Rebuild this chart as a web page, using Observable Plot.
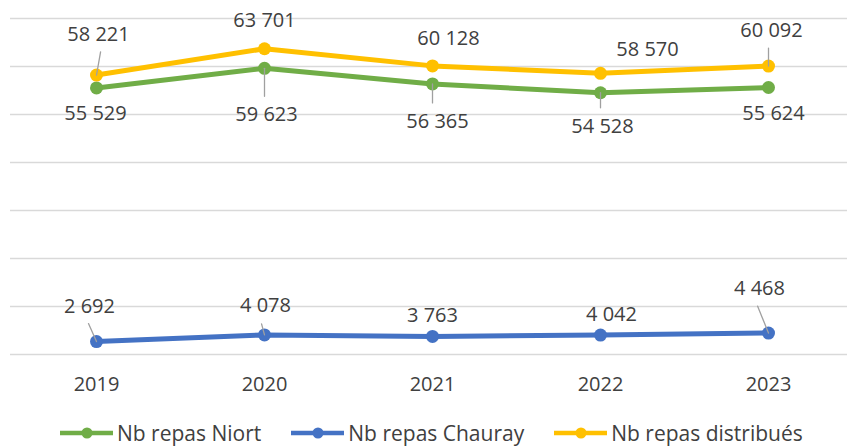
<!DOCTYPE html>
<html>
<head>
<meta charset="utf-8">
<script src="https://cdn.jsdelivr.net/npm/d3@7"></script>
<script src="https://cdn.jsdelivr.net/npm/@observablehq/plot@0.6"></script>
<style>
  html, body { margin: 0; padding: 0; background: #fff; }
  body { width: 847px; height: 447px; overflow: hidden; font-family: "Open Sans", sans-serif; }
  #legend { height: 29px; display: flex; align-items: center; padding-left: 60px; color: #404040; font-size: 21px; }
  .item { display: flex; align-items: center; margin-right: 30px; }
  .item svg { margin-right: 4px; }
</style>
</head>
<body>
<div id="chart"></div>
<div id="legend"></div>
<script>
// ---- data ----
const years = ["2019", "2020", "2021", "2022", "2023"];
const niort = [55529, 59623, 56365, 54528, 55624];
const chauray = [2692, 4078, 3763, 4042, 4468];
const distribues = [58221, 63701, 60128, 58570, 60092];
const seriesNames = ["Nb repas Niort", "Nb repas Chauray", "Nb repas distribués"];
const yTicks = [0, 10000, 20000, 30000, 40000, 50000, 60000, 70000];

// ---- styles ----
const colors = ["#70AD47", "#4472C4", "#FFC000"];
// label offsets in pixels (dx, dy) per series and year
const labelOffsets = [
  [[-1, 26], [2, 46], [5, 38], [2, 34], [5, 26]],
  [[-7, -35], [1, -29], [0, -21], [11, -20.5], [-9, -44]],
  [[2, -40], [0, -28], [16, -27], [47, -23.5], [3, -35]]
];
// leader lines: [seriesIndex, yearIndex, length px, rotate deg]
const leaders = [
  [2, 0, 23.5, 10],
  [0, 1, 28, 180],
  [0, 2, 19, 180],
  [0, 3, 15, 180],
  [2, 4, 18, 0],
  [1, 0, 19.7, -24],
  [1, 1, 11.4, -15],
  [1, 4, 29, -22]
];

const fmt = d3.formatLocale({decimal: ",", thousands: "\u00a0", grouping: [3], currency: ["", "€"]}).format(",");

const seriesValues = [niort, chauray, distribues];
const table = [];
seriesValues.forEach((vals, s) => vals.forEach((v, i) => table.push({series: seriesNames[s], year: years[i], value: v, s, i})));
const row = (s, i) => table.find(d => d.s === s && d.i === i);

const lineShape = {draw(context, l) { context.moveTo(0, 0); context.lineTo(0, -l); }};

const marks = [
  Plot.ruleY(yTicks, {stroke: "#d9d9d9", strokeWidth: 1.4}),
  Plot.line(table, {x: "year", y: "value", z: "series", stroke: "series", strokeWidth: 5, strokeLinejoin: "round"}),
  Plot.dot(table, {x: "year", y: "value", fill: "series", r: 6.5, stroke: null}),
];
for (const [s, i, len, rot] of leaders) {
  marks.push(Plot.vector([row(s, i)], {x: "year", y: "value", length: len, rotate: rot, anchor: "start", shape: lineShape, stroke: "#a0a0a0", strokeWidth: 1.3}));
}
for (const d of table) {
  const [dx, dy] = labelOffsets[d.s][d.i];
  marks.push(Plot.text([d], {x: "year", y: "value", text: d => fmt(d.value), dx, dy, fill: "#404040", fontSize: 20, lineAnchor: "middle", textAnchor: "middle"}));
}
marks.push(Plot.text(years, {x: d => d, y: () => 0, dy: 30.5, fill: "#404040", fontSize: 20, lineAnchor: "middle"}));

const chart = Plot.plot({
  width: 847,
  height: 418,
  marginLeft: 10,
  marginRight: 0,
  marginTop: 18,
  marginBottom: 64,
  style: {fontFamily: "Open Sans", background: "#fff", overflow: "visible"},
  x: {type: "point", domain: years, range: [95, 768], padding: 0, axis: null},
  y: {domain: [0, 70000], range: [354, 18], axis: null},
  color: {domain: seriesNames, range: colors},
  marks
});
document.getElementById("chart").appendChild(chart);

// legend
const legend = document.getElementById("legend");
seriesNames.forEach((name, k) => {
  const item = document.createElement("div");
  item.className = "item";
  item.innerHTML = `<svg width="53" height="14"><line x1="0" y1="7" x2="53" y2="7" stroke="${colors[k]}" stroke-width="4.5"/><circle cx="27" cy="7" r="5.5" fill="${colors[k]}"/></svg><span>${name}</span>`;
  legend.appendChild(item);
});
</script>
</body>
</html>
